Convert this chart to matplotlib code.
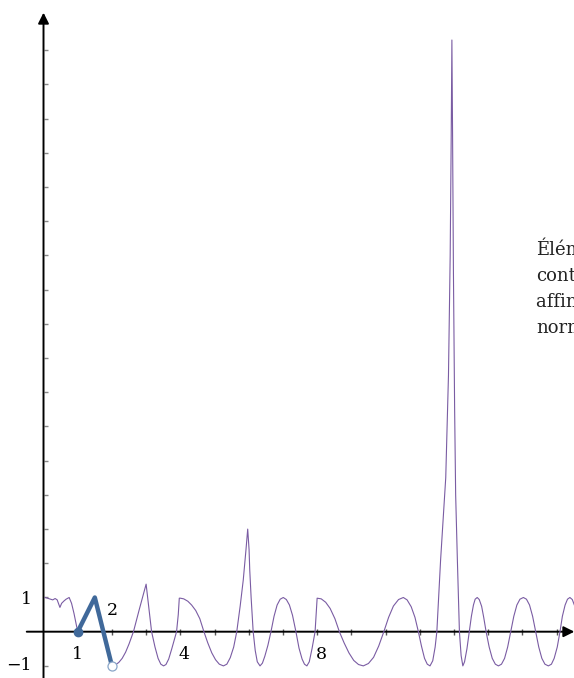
import matplotlib
matplotlib.use('Agg')
import matplotlib.pyplot as plt

# purple curve, values
curve_x = [0.05, 0.11, 0.19, 0.27, 0.34, 0.40, 0.48, 0.53, 0.60, 0.66, 0.75, 0.82, 0.89, 0.95,
           1.00, 1.50, 2.00,
           2.10, 2.20, 2.30, 2.40, 2.50, 2.63, 2.80, 3.00, 3.16, 3.26, 3.35, 3.43, 3.51, 3.58, 3.66,
           3.75, 3.89, 3.94, 3.97,
           4.00, 4.10, 4.22, 4.33, 4.45, 4.57, 4.69, 4.80, 4.92, 5.03, 5.14, 5.26, 5.36, 5.46, 5.56,
           5.65, 5.75, 5.84, 5.92, 5.97, 6.01, 6.03, 6.07, 6.13, 6.19, 6.25, 6.33, 6.40, 6.47, 6.56,
           6.65, 6.74, 6.83, 6.92, 7.01, 7.10, 7.19, 7.28, 7.38, 7.47, 7.56, 7.63, 7.70, 7.77, 7.85,
           7.94, 7.97, 8.00,
           8.12, 8.25, 8.38, 8.52, 8.65, 8.79, 8.93, 9.07, 9.21, 9.35, 9.50, 9.65, 9.80, 9.95, 10.09,
           10.23, 10.38, 10.52, 10.63, 10.75, 10.86, 10.96, 11.05, 11.14, 11.22, 11.30, 11.38, 11.45,
           11.50, 11.61, 11.76, 11.84, 11.89, 11.92, 11.94, 11.96, 11.985, 12.02, 12.05, 12.10, 12.16,
           12.21, 12.26, 12.31, 12.38, 12.45, 12.51, 12.57, 12.62, 12.68, 12.74, 12.81, 12.87, 12.94,
           13.03, 13.12, 13.21, 13.30, 13.39, 13.48, 13.57, 13.66, 13.75, 13.84, 13.93, 14.03, 14.12,
           14.21, 14.30, 14.39, 14.48, 14.57, 14.66, 14.76, 14.85, 14.93, 15.02, 15.10, 15.17, 15.25,
           15.32, 15.39, 15.46, 15.52]
curve_y = [1.00, 0.98, 0.95, 0.93, 0.97, 0.93, 0.71, 0.83, 0.90, 0.95, 1.00, 0.83, 0.54, 0.25,
           0.00, 1.00, -1.00,
           -0.97, -0.90, -0.78, -0.60, -0.36, 0.00, 0.65, 1.39, 0.00, -0.45, -0.78, -0.95, -1.00, -0.96, -0.80,
           -0.50, 0.00, 0.50, 0.98,
           0.98, 0.96, 0.89, 0.78, 0.62, 0.38, 0.00, -0.32, -0.62, -0.82, -0.95, -1.00, -0.95, -0.76, -0.45,
           0.00, 0.75, 1.51, 2.40, 3.00, 2.40, 1.80, 1.00, 0.00, -0.55, -0.88, -1.00, -0.92, -0.72, -0.40,
           0.00, 0.45, 0.78, 0.95, 1.00, 0.94, 0.78, 0.48, 0.00, -0.48, -0.80, -0.95, -1.00, -0.88, -0.50,
           0.00, 0.50, 0.98,
           0.96, 0.86, 0.68, 0.38, 0.00, -0.33, -0.62, -0.84, -0.96, -1.00, -0.93, -0.75, -0.42, 0.00, 0.42,
           0.75, 0.94, 1.00, 0.93, 0.73, 0.42, 0.00, -0.42, -0.78, -0.95, -1.00, -0.85, -0.45,
           0.00, 2.10, 4.50, 7.50, 11.00, 14.50, 17.30, 14.50, 10.50, 6.50, 4.00, 2.10, 0.00,
           -0.70, -1.00, -0.88, -0.50, 0.00, 0.45, 0.78, 0.95, 1.00, 0.94, 0.74, 0.42, 0.00,
           -0.45, -0.78, -0.95, -1.00, -0.95, -0.78, -0.45, 0.00, 0.45, 0.78, 0.95, 1.00, 0.95,
           0.78, 0.45, 0.00, -0.45, -0.78, -0.95, -1.00, -0.95, -0.78, -0.45, 0.00, 0.45, 0.78,
           0.95, 1.00, 0.94, 0.78]

# thick highlighted piece
piece_x = [1.0, 1.5, 2.0]
piece_y = [0.0, 1.0, -1.0]

x_ticks = list(range(1, 16))
y_ticks = [-1] + list(range(1, 18))
x_labels = ['1', '2', '4', '8']
y_labels = ['1', '\u22121']

note_lines = ['Élément', 'continu', 'affine par', 'normalisé']

purple = '#7a5ca3'
blue = '#40699a'

plt.rcParams['font.family'] = ['DejaVu Serif']

fig = plt.figure(figsize=(5.74, 6.78), dpi=100)
ax = fig.add_axes([0, 0, 1, 1])
ax.set_xlim(-1.272, 15.51)
ax.set_ylim(-1.354, 18.47)

for side in ['top', 'right']:
    ax.spines[side].set_visible(False)
ax.spines['left'].set_position(('data', 0))
ax.spines['bottom'].set_position(('data', 0))
ax.spines['left'].set_visible(False)
ax.spines['bottom'].set_visible(False)

ax.set_xticks(x_ticks)
ax.set_yticks(y_ticks)
ax.set_xticklabels([])
ax.set_yticklabels([])
ax.tick_params(axis='x', direction='inout', length=4, width=1.0, color='#555555')
ax.tick_params(axis='y', direction='in', length=3, width=1.0, color='#888888')

# axes with arrow heads
ax.annotate('', xy=(15.52, 0), xytext=(-0.49, 0),
            arrowprops=dict(arrowstyle='-|>', lw=1.4, color='black', mutation_scale=16,
                            shrinkA=0, shrinkB=0))
ax.annotate('', xy=(0, 18.1), xytext=(0, -1.4),
            arrowprops=dict(arrowstyle='-|>', lw=1.4, color='black', mutation_scale=16,
                            shrinkA=0, shrinkB=0))

ax.plot(curve_x, curve_y, color=purple, lw=0.8, zorder=3, clip_on=False)

ax.plot(piece_x, piece_y, color=blue, lw=3.2, solid_capstyle='round', zorder=4)
ax.plot(piece_x[0], piece_y[0], 'o', ms=6, color=blue, zorder=5)
ax.plot(piece_x[-1], piece_y[-1], 'o', ms=6.5, mfc='white', mec='#8aa6c8', mew=0.9, zorder=5)

# tick labels
ax.text(1, -0.68, x_labels[0], ha='center', va='center', fontsize=12.5)
ax.text(2.0, 0.62, x_labels[1], ha='center', va='center', fontsize=12.5)
ax.text(4.11, -0.68, x_labels[2], ha='center', va='center', fontsize=12.5)
ax.text(8.13, -0.66, x_labels[3], ha='center', va='center', fontsize=12.5)
ax.text(-0.35, 0.95, y_labels[0], ha='right', va='center', fontsize=12.5)
ax.text(-0.35, -1.0, y_labels[1], ha='right', va='center', fontsize=12.5)

# side note, cut by the right edge as in the original
for i, line in enumerate(note_lines):
    ax.text(14.4, 11.01 - 0.76 * i, line, ha='left', va='baseline', fontsize=13,
            color='#222222')

fig.savefig('out.png', dpi=100)
